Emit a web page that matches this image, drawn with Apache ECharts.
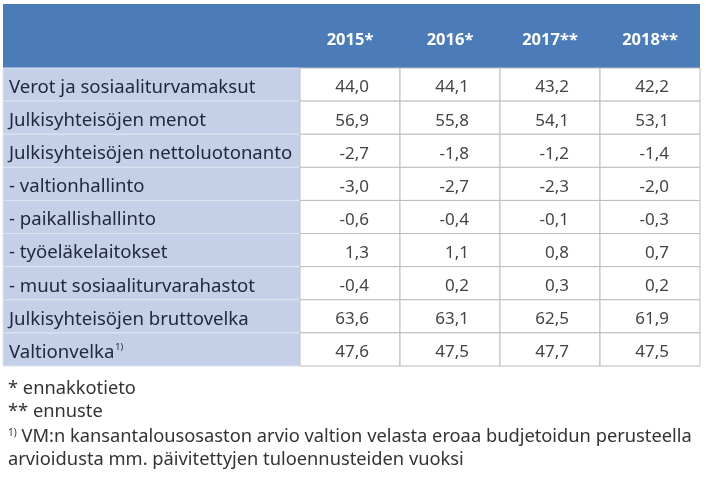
<!DOCTYPE html>
<html><head><meta charset="utf-8">
<script src="https://cdn.jsdelivr.net/npm/echarts@6/dist/echarts.min.js"></script>
<style>html,body{margin:0;padding:0;background:#fff}#c{width:706px;height:478px}</style>
</head><body><div id="c"></div>
<script>
const rowLabels = [
  'Verot ja sosiaaliturvamaksut',
  'Julkisyhteisöjen menot',
  'Julkisyhteisöjen nettoluotonanto',
  '- valtionhallinto',
  '- paikallishallinto',
  '- työeläkelaitokset',
  '- muut sosiaaliturvarahastot',
  'Julkisyhteisöjen bruttovelka',
  'Valtionvelka'
];
const rowSup = ['', '', '', '', '', '', '', '', '1)'];
const years = ['2015*', '2016*', '2017**', '2018**'];
const v2015 = [44.0, 56.9, -2.7, -3.0, -0.6, 1.3, -0.4, 63.6, 47.6];
const v2016 = [44.1, 55.8, -1.8, -2.7, -0.4, 1.1, 0.2, 63.1, 47.5];
const v2017 = [43.2, 54.1, -1.2, -2.3, -0.1, 0.8, 0.3, 62.5, 47.7];
const v2018 = [42.2, 53.1, -1.4, -2.0, -0.3, 0.7, 0.2, 61.9, 47.5];
const footnotes = ['* ennakkotieto', '** ennuste'];
const footSup = '1)';
const footLong = ['VM:n kansantalousosaston arvio valtion velasta eroaa budjetoidun perusteella',
                  'arvioidusta mm. päivitettyjen tuloennusteiden vuoksi'];

const cols = [v2015, v2016, v2017, v2018];
const valueData = [];
cols.forEach((arr, ci) => arr.forEach((v, ri) => valueData.push([ci, ri, v])));
const labelData = rowLabels.map((l, i) => [0, i, l]);
const fmt = v => v.toFixed(1).replace('.', ',');
const FONT = '"Noto Sans", sans-serif';
const FF = '18.3px ' + FONT;

const chart = echarts.init(document.getElementById('c'), null, {renderer: 'canvas'});
chart.setOption({
  animation: false,
  backgroundColor: '#ffffff',
  graphic: [
    {type: 'rect', shape: {x: 3, y: 4, width: 697, height: 64}, style: {fill: '#4b7cb7'}, z: 0},
    {type: 'text', left: 8, top: 380, style: {text: footnotes[0], font: FF, fill: '#333'}},
    {type: 'text', left: 8, top: 403, style: {text: footnotes[1], font: FF, fill: '#333'}},
    {type: 'text', left: 8, top: 428, style: {
      text: '{s|' + footSup + '} ' + footLong[0], font: FF, fill: '#333',
      rich: {s: {fontSize: 10, verticalAlign: 'top', lineHeight: 12, fill: '#333', fontFamily: FONT}}}},
    {type: 'text', left: 8, top: 451, style: {text: footLong[1], font: FF, fill: '#333'}}
  ],
  grid: [
    {left: 3, top: 68, width: 297, height: 298},
    {left: 300, top: 68, width: 400, height: 298}
  ],
  xAxis: [
    {gridIndex: 0, type: 'category', data: [''], show: false},
    {gridIndex: 1, type: 'category', data: years, position: 'top',
     axisLine: {show: false}, axisTick: {show: false},
     axisLabel: {color: '#ffffff', fontWeight: 'bold', fontSize: 16.5, fontFamily: FONT, margin: 19}}
  ],
  yAxis: [
    {gridIndex: 0, type: 'category', data: rowLabels, inverse: true, show: false},
    {gridIndex: 1, type: 'category', data: rowLabels, inverse: true, show: false}
  ],
  series: [
    {
      type: 'custom', xAxisIndex: 0, yAxisIndex: 0, data: labelData,
      renderItem: (params, api) => {
        const p = api.coord([api.value(0), api.value(1)]);
        const s = api.size([1, 1]);
        const i = params.dataIndex;
        const x0 = p[0] - s[0] / 2, y0 = p[1] - s[1] / 2;
        const label = rowLabels[i] + (rowSup[i] ? '{s|' + rowSup[i] + '}' : '');
        return {type: 'group', children: [
          {type: 'rect', shape: {x: x0, y: y0, width: s[0], height: s[1]},
           style: {fill: '#c4d0e7', stroke: '#dde4f1', lineWidth: 1}},
          {type: 'text', x: x0 + 6, y: p[1] + 3,
           style: {text: label, fill: '#23283a', font: '18.6px ' + FONT, verticalAlign: 'middle', align: 'left',
             rich: {s: {fontSize: 9, verticalAlign: 'top', fill: '#23283a', fontFamily: FONT, padding: [0,0,8,1]}}}}
        ]};
      }
    },
    {
      type: 'custom', xAxisIndex: 1, yAxisIndex: 1, data: valueData,
      renderItem: (params, api) => {
        const p = api.coord([api.value(0), api.value(1)]);
        const s = api.size([1, 1]);
        const x0 = p[0] - s[0] / 2, y0 = p[1] - s[1] / 2;
        return {type: 'group', children: [
          {type: 'rect', shape: {x: x0, y: y0, width: s[0], height: s[1]},
           style: {fill: '#ffffff', stroke: '#bdbdbd', lineWidth: 1}},
          {type: 'text', x: x0 + s[0] - 31, y: p[1] + 3,
           style: {text: fmt(api.value(2)), fill: '#444444', font: '17px ' + FONT, verticalAlign: 'middle', align: 'right'}}
        ]};
      }
    }
  ]
});
</script></body></html>
